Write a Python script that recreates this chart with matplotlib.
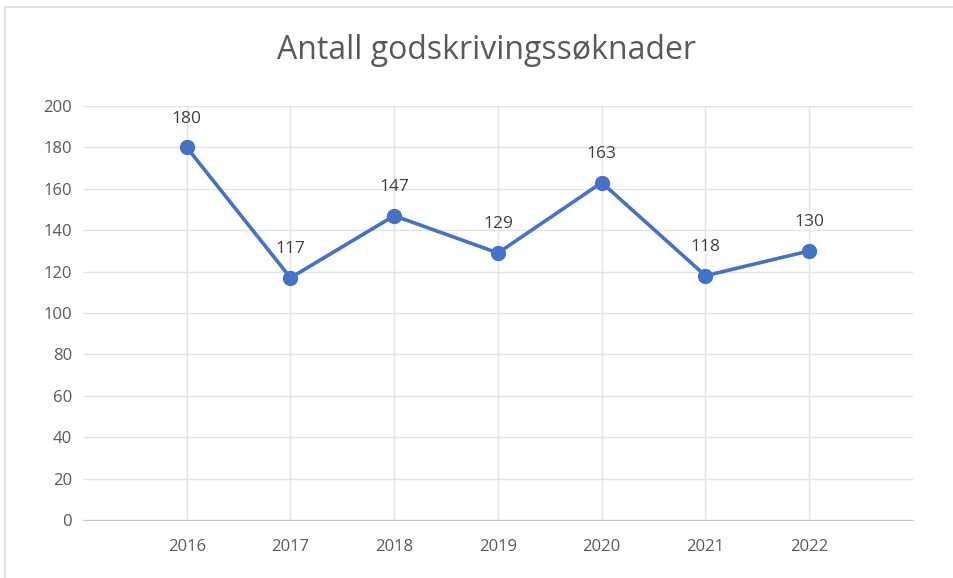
import matplotlib.pyplot as plt
from matplotlib.patches import Rectangle

years = ["2016", "2017", "2018", "2019", "2020", "2021", "2022"]
counts = [180, 117, 147, 129, 163, 118, 130]
yticks = [0, 20, 40, 60, 80, 100, 120, 140, 160, 180, 200]

plt.rcParams['font.family'] = ['Open Sans', 'DejaVu Sans']

fig = plt.figure(figsize=(9.54, 5.78), dpi=100)
ax = fig.add_axes([0.087, 0.1003, 0.870, 0.7163])

# light frame around the whole chart
fig.patches.append(Rectangle((0.005, -0.01), 1.2, 0.998, transform=fig.transFigure,
                             fill=False, edgecolor="#D9D9D9", linewidth=1.2))

x = list(range(len(years)))
ax.plot(x, counts, color="#4472C4", linewidth=2.6, marker="o", markersize=10,
        zorder=3)
for xi, v in zip(x, counts):
    ax.annotate(str(v), (xi, v), xytext=(0, 15), textcoords="offset points",
                ha="center", va="bottom", fontsize=12.5, color="#404040")

ax.set_xlim(-1, 7)
ax.set_ylim(0, 200)
ax.set_xticks(x)
ax.set_xticklabels(years)
ax.set_yticks(yticks)
ax.grid(True, color="#E3E3E3", linewidth=1)
ax.set_axisbelow(True)
for s in ["top", "right", "left"]:
    ax.spines[s].set_visible(False)
ax.spines["bottom"].set_color("#C8C8C8")
ax.tick_params(length=0, labelsize=12, colors="#595959")
ax.tick_params(axis="x", pad=14)
ax.tick_params(axis="y", pad=8)

fig.text(0.51, 0.912, "Antall godskrivingssøknader", ha="center", va="center",
         fontsize=23, color="#595959")

fig.savefig("out.png", dpi=100)
